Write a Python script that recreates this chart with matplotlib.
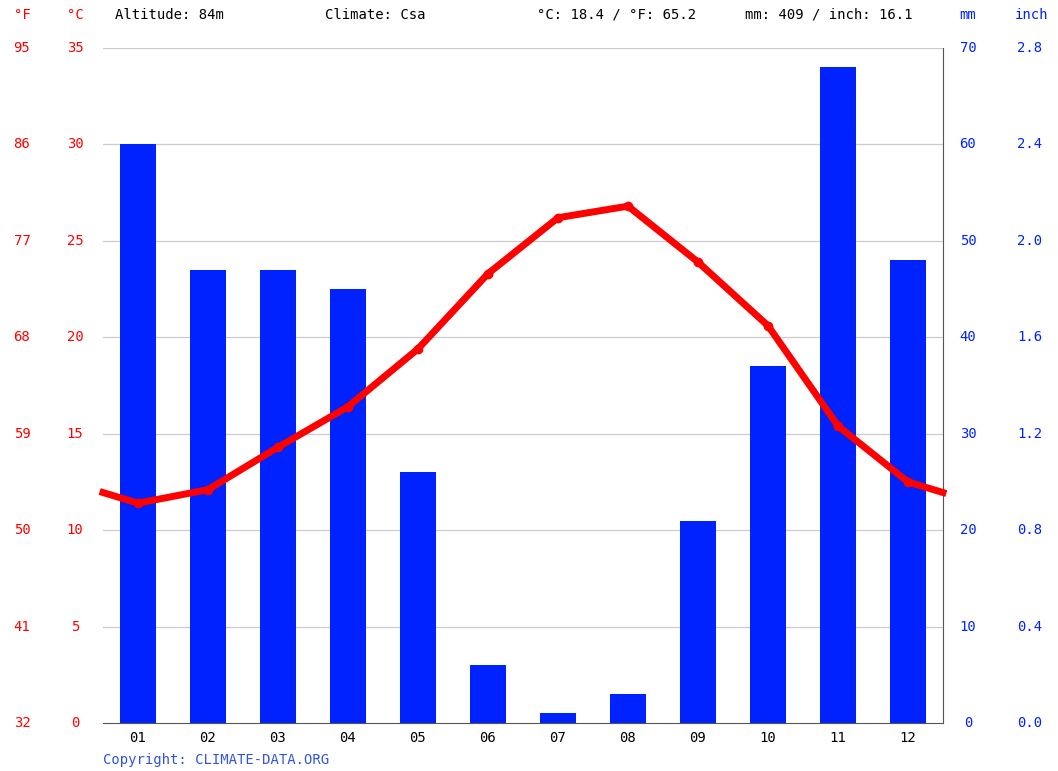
import matplotlib
matplotlib.use('Agg')
import matplotlib.pyplot as plt
import numpy as np

months = ['01', '02', '03', '04', '05', '06', '07', '08', '09', '10', '11', '12']
precip_mm = [60, 47, 47, 45, 26, 6, 1, 3, 21, 37, 68, 48]
temp_c = [11.4, 12.1, 14.3, 16.4, 19.4, 23.3, 26.2, 26.8, 23.9, 20.6, 15.4, 12.5]
c_ticks = [0, 5, 10, 15, 20, 25, 30, 35]
f_labels = ['32', '41', '50', '59', '68', '77', '86', '95']
mm_ticks = [0, 10, 20, 30, 40, 50, 60, 70]
inch_labels = ['0.0', '0.4', '0.8', '1.2', '1.6', '2.0', '2.4', '2.8']

RED = '#ff0000'
BLUE = '#0022ff'
MONO = 'DejaVu Sans Mono'

fig = plt.figure(figsize=(10.58, 7.71), dpi=100)
W, H = 1058, 771
ax = fig.add_axes([103 / W, 1 - 723 / H, 840 / W, 675 / H])

x = np.arange(12) + 0.5
ax.bar(x, precip_mm, width=0.52, color=BLUE, zorder=2)
ax.set_xlim(0, 12)
ax.set_ylim(0, 70)

edge = (temp_c[0] + temp_c[-1]) / 2
tx = np.concatenate([[0], x, [12]])
ty = np.concatenate([[edge], temp_c, [edge]]) * 2
ax.plot(tx, ty, color=RED, lw=5, zorder=3, solid_joinstyle='round', clip_on=False)
ax.plot(x, np.array(temp_c) * 2, 'o', color=RED, ms=6, zorder=4)

for t in mm_ticks[1:]:
    ax.axhline(t, color='#cccccc', lw=0.9, zorder=1)

for s in ['top', 'left']:
    ax.spines[s].set_visible(False)
ax.spines['right'].set_color('#555555')
ax.spines['bottom'].set_color('#555555')
ax.set_xticks(x)
ax.set_xticklabels(months, fontfamily=MONO, fontsize=10)
ax.tick_params(axis='x', length=0, pad=6)
ax.set_yticks([])

def fx(px):
    return px / W

def fy(py):
    return 1 - py / H

for i, c in enumerate(c_ticks):
    yy = 723 - c / 35 * 675
    fig.text(fx(22), fy(yy), f_labels[i], color=RED, fontfamily=MONO, fontsize=10, ha='center', va='center')
    fig.text(fx(75), fy(yy), str(c), color=RED, fontfamily=MONO, fontsize=10, ha='center', va='center')
    fig.text(fx(968), fy(yy), str(mm_ticks[i]), color=BLUE, fontfamily=MONO, fontsize=10, ha='center', va='center')
    fig.text(fx(1030), fy(yy), inch_labels[i], color=BLUE, fontfamily=MONO, fontsize=10, ha='center', va='center')

fig.text(fx(22), fy(15), '°F', color=RED, fontfamily=MONO, fontsize=10, ha='center', va='center')
fig.text(fx(75), fy(15), '°C', color=RED, fontfamily=MONO, fontsize=10, ha='center', va='center')
fig.text(fx(968), fy(15), 'mm', color=BLUE, fontfamily=MONO, fontsize=10, ha='center', va='center')
fig.text(fx(1032), fy(15), 'inch', color=BLUE, fontfamily=MONO, fontsize=10, ha='center', va='center')
fig.text(fx(115), fy(15), 'Altitude: 84m', fontfamily=MONO, fontsize=10, va='center')
fig.text(fx(325), fy(15), 'Climate: Csa', fontfamily=MONO, fontsize=10, va='center')
fig.text(fx(537), fy(15), '°C: 18.4 / °F: 65.2', fontfamily=MONO, fontsize=10, va='center')
fig.text(fx(745), fy(15), 'mm: 409 / inch: 16.1', fontfamily=MONO, fontsize=10, va='center')
fig.text(fx(103), fy(760), 'Copyright: CLIMATE-DATA.ORG', color='#3355dd', fontfamily=MONO, fontsize=10, va='center')

fig.savefig('out.png', dpi=100)
